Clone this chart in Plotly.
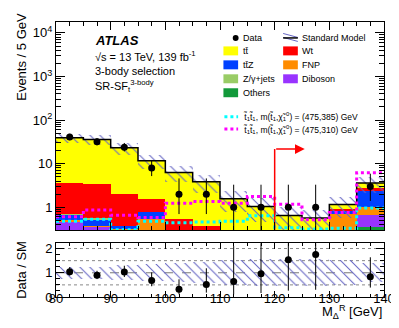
import numpy as np
import plotly.graph_objects as go

# ---- values ----
bin_edges = [80, 85, 90, 95, 100, 105, 110, 115, 120, 125, 130, 135, 140]
bin_centers = [82.5, 87.5, 92.5, 97.5, 102.5, 107.5, 112.5, 117.5, 122.5, 127.5, 132.5, 137.5]

# backgrounds, stacked bottom -> top
others = [0.01, 0.01, 0.02, 0.02, 0.01, 0.01, 0.02, 0.02, 0.01, 0.01, 0.01, 0.36]
diboson = [0.45, 0.35, 0.05, 0.03, 0.02, 0.02, 0.01, 0.01, 0.01, 0.01, 0.01, 0.30]
fnp = [0.05, 0.02, 0.25, 0.50, 0.02, 0.01, 0.00, 0.00, 0.00, 0.00, 0.70, 0.34]
ttz = [0.15, 0.12, 0.05, 0.24, 0.10, 0.10, 0.01, 0.01, 0.01, 0.01, 0.10, 1.40]
zjets = [0.05, 0.08, 0.00, 0.00, 0.00, 0.00, 0.00, 0.00, 0.00, 0.00, 0.00, 0.00]
wt = [2.83, 2.78, 1.61, 0.73, 0.40, 0.24, 0.03, 0.05, 0.02, 0.01, 0.08, 0.40]
ttbar = [35.7, 32.4, 21.2, 10.2, 5.75, 3.5, 1.5, 0.95, 0.6, 0.53, 0.26, 0.8]

sm_rel_unc = [0.25, 0.25, 0.30, 0.35, 0.40, 0.45, 0.50, 0.55, 0.55, 0.55, 0.50, 0.40]

data = [41, 32, 24, 8, 2, 2, 1, 1, 1, 1, 0, 3]
data_err_up = [7.4, 6.7, 5.9, 3.9, 2.6, 2.6, 2.3, 2.3, 2.3, 2.3, 0, 2.9]
data_err_dn = [6.4, 5.6, 4.9, 2.8, 1.3, 1.3, 0.83, 0.83, 0.83, 0.83, 0, 1.6]

sig_385 = [0.48, 0.53, 0.305, 0.48, 0.44, 0.46, 0.48, 0.64, 0.34, 0.32, 0.33, 0.97]
sig_310 = [0.61, 0.87, 0.66, 0.58, 1.24, 1.36, 1.24, 1.77, 1.17, 0.52, 0.76, 6.2]

cut_value = 120
arrow_end = 125.5
arrow_height = 21.6

# ---- styles ----
bkgs = [
    ("Others", others, "#12993a"),
    ("Diboson", diboson, "#9933ff"),
    ("FNP", fnp, "#ff8c00"),
    ("ttZ", ttz, "#0040ff"),
    ("Z/gamma+jets", zjets, "#99cc66"),
    ("Wt", wt, "#ff0000"),
    ("ttbar", ttbar, "#ffff00"),
]
HATCH = "#6666c4"
FONT = "Liberation Sans, Arial, sans-serif"

W, H = 399, 328
PL, PR, PT, PB = 48, 383, 13, 289


def fx(px):
    return (px - PL) / (PR - PL)


def fy(py):
    return (PB - py) / (PB - PT)


fig = go.Figure()

# stacked backgrounds: draw cumulative sums from the top one down,
# each bar starting at the axis floor (works on a log axis)
cumul = np.cumsum([np.array(v) for _, v, _ in bkgs], axis=0)
for i in range(len(bkgs) - 1, -1, -1):
    fig.add_trace(go.Bar(x=bin_centers, y=cumul[i], width=5,
                         marker=dict(color=bkgs[i][2], line=dict(width=0)),
                         xaxis="x", yaxis="y", showlegend=False))
total = cumul[-1]

# SM uncertainty band
rel = np.array(sm_rel_unc)
hatch = dict(color="rgba(0,0,0,0)", line=dict(width=0),
             pattern=dict(shape="\\", fgcolor=HATCH, fgopacity=1, bgcolor="rgba(0,0,0,0)",
                          size=7, solidity=0.15, fillmode="overlay"))
fig.add_trace(go.Bar(x=bin_centers, y=2 * rel * total, base=total * (1 - rel), width=5,
                     marker=hatch, xaxis="x", yaxis="y", showlegend=False))

# SM total line
fig.add_trace(go.Scatter(x=bin_edges, y=list(total) + [total[-1]], mode="lines",
                         line=dict(color="black", width=1.5, shape="hv"),
                         xaxis="x", yaxis="y", showlegend=False))

# signals
for vals, col in [(sig_385, "#00ffff"), (sig_310, "#ff00ff")]:
    fig.add_trace(go.Scatter(x=bin_edges, y=vals + [vals[-1]], mode="lines",
                             line=dict(color=col, width=3, dash="dot", shape="hv"),
                             xaxis="x", yaxis="y", showlegend=False))

# cut arrow
ymin_main = 10 ** -0.526
fig.add_trace(go.Scatter(x=[cut_value, cut_value], y=[ymin_main, arrow_height], mode="lines",
                         line=dict(color="red", width=1.5), xaxis="x", yaxis="y", showlegend=False))
fig.add_annotation(x=arrow_end, y=np.log10(arrow_height), ax=cut_value, ay=np.log10(arrow_height),
                   xref="x", yref="y", axref="x", ayref="y", text="", showarrow=True,
                   arrowhead=2, arrowsize=1.3, arrowwidth=1.5, arrowcolor="red")

# data
d = np.array(data, dtype=float)
mask = d > 0
xs = [c for c, m in zip(bin_centers, mask) if m]
fig.add_trace(go.Scatter(x=xs, y=d[mask], mode="markers",
                         marker=dict(color="black", size=7),
                         error_y=dict(type="data", symmetric=False,
                                      array=np.array(data_err_up)[mask],
                                      arrayminus=np.array(data_err_dn)[mask],
                                      color="black", thickness=1, width=0),
                         xaxis="x", yaxis="y", showlegend=False))

# ratio panel
for yv, dash, col in [(0.5, "dot", "#888888"), (1.5, "dot", "#888888"), (2.0, "dot", "#888888"), (1.0, "dash", "#777777")]:
    fig.add_shape(type="line", xref="x2", yref="y2", x0=80, x1=140, y0=yv, y1=yv,
                  line=dict(color=col, width=1, dash=dash), layer="below")
fig.add_trace(go.Bar(x=bin_centers, y=2 * rel, base=1 - rel, width=5,
                     marker=hatch, xaxis="x2", yaxis="y2", showlegend=False))
ratio = d / total
fig.add_trace(go.Scatter(x=xs, y=ratio[mask], mode="markers",
                         marker=dict(color="black", size=7),
                         error_y=dict(type="data", symmetric=False,
                                      array=(np.array(data_err_up) / total)[mask],
                                      arrayminus=(np.array(data_err_dn) / total)[mask],
                                      color="black", thickness=1, width=0),
                         xaxis="x2", yaxis="y2", showlegend=False))

# ---- legend (drawn by hand) ----
leg_rows = [29, 42, 56, 70, 84]
col1_box, col2_box = (219, 234), (280, 295)
left_items = [("Data", None), ("tt\u0304", "#ffff00"), ("tt\u0304Z", "#0040ff"),
              ("Z/\u03b3+jets", "#99cc66"), ("Others", "#12993a")]
right_items = [("Standard Model", None), ("Wt", "#ff0000"), ("FNP", "#ff8c00"), ("Diboson", "#9933ff")]

for (label, col), row in zip(left_items, leg_rows):
    if col is None:
        fig.add_shape(type="circle", xref="paper", yref="paper",
                      x0=fx(228.5), x1=fx(234.5), y0=fy(row + 3), y1=fy(row - 3),
                      fillcolor="black", line=dict(width=0))
    else:
        fig.add_shape(type="rect", xref="paper", yref="paper",
                      x0=fx(col1_box[0]), x1=fx(col1_box[1]), y0=fy(row + 4.5), y1=fy(row - 4.5),
                      fillcolor=col, line=dict(width=0))
    fig.add_annotation(x=fx(237), y=fy(row), xref="paper", yref="paper", text=label,
                       showarrow=False, xanchor="left", yanchor="middle",
                       font=dict(size=9, family=FONT, color="black"))

for (label, col), row in zip(right_items, leg_rows):
    if col is None:
        for off in (-2.5, 1.5):
            fig.add_shape(type="line", xref="paper", yref="paper",
                          x0=fx(col2_box[0]), x1=fx(col2_box[1]),
                          y0=fy(row + off - 2), y1=fy(row + off + 2),
                          line=dict(color=HATCH, width=1))
        fig.add_shape(type="line", xref="paper", yref="paper",
                      x0=fx(col2_box[0]), x1=fx(col2_box[1]), y0=fy(row), y1=fy(row),
                      line=dict(color="black", width=1.5))
    else:
        fig.add_shape(type="rect", xref="paper", yref="paper",
                      x0=fx(col2_box[0]), x1=fx(col2_box[1]), y0=fy(row + 4.5), y1=fy(row - 4.5),
                      fillcolor=col, line=dict(width=0))
    fig.add_annotation(x=fx(297), y=fy(row), xref="paper", yref="paper", text=label,
                       showarrow=False, xanchor="left", yanchor="middle",
                       font=dict(size=9, family=FONT, color="black"))

stop = "t\u0303<sub>1</sub>"
chi = "\u03c7\u0303<sub>1</sub><sup>0</sup>"
for row, col, masses in [(108, "#00ffff", "(475,385)"), (120.5, "#ff00ff", "(475,310)")]:
    fig.add_shape(type="line", xref="paper", yref="paper", x0=fx(220), x1=fx(234),
                  y0=fy(row), y1=fy(row), line=dict(color=col, width=3, dash="dot"))
    fig.add_annotation(x=fx(237), y=fy(row), xref="paper", yref="paper",
                       text=stop + stop + ", m(" + stop + "," + chi + ") = " + masses + " GeV",
                       showarrow=False, xanchor="left", yanchor="middle",
                       font=dict(size=8.5, family=FONT, color="black"))

# ---- labels ----
fig.add_annotation(x=fx(86), y=fy(32), xref="paper", yref="paper", text="<b><i>ATLAS</i></b>",
                   showarrow=False, xanchor="left", yanchor="middle",
                   font=dict(size=13, family=FONT, color="black"))
for txt, row in [("\u221As = 13 TeV, 139 fb<sup>-1</sup>", 47), ("3-body selection", 62),
                 ("SR-SF<sub>t</sub><sup>3-body</sup>", 77)]:
    fig.add_annotation(x=fx(86), y=fy(row), xref="paper", yref="paper", text=txt,
                       showarrow=False, xanchor="left", yanchor="middle",
                       font=dict(size=11, family=FONT, color="black"))

fig.add_annotation(x=fx(12), y=fy(2), xref="paper", yref="paper", text="Events / 5 GeV",
                   textangle=-90, showarrow=False, xanchor="center", yanchor="top",
                   font=dict(size=13, family=FONT, color="black"))
fig.add_annotation(x=fx(12), y=fy(262), xref="paper", yref="paper", text="Data / SM",
                   textangle=-90, showarrow=False, xanchor="center", yanchor="middle",
                   font=dict(size=13, family=FONT, color="black"))
fig.add_annotation(x=1, y=fy(304), xref="paper", yref="paper", text="M<sub>\u0394</sub><sup>R</sup> [GeV]",
                   showarrow=False, xanchor="right", yanchor="middle",
                   font=dict(size=13, family=FONT, color="black"))

# ---- axes ----
major_log = [1, 10, 100, 1000, 10000]
minor_log = [m * 10 ** k for k in range(-1, 5) for m in range(2, 10)]
axis_common = dict(showline=True, linecolor="black", linewidth=1, mirror="ticks",
                   ticks="inside", tickcolor="black", showgrid=False, zeroline=False,
                   tickfont=dict(size=13, family=FONT, color="black"))

fig.update_layout(
    width=W, height=H,
    margin=dict(l=PL, r=W - PR, t=PT, b=H - PB),
    paper_bgcolor="white", plot_bgcolor="white",
    barmode="overlay", bargap=0,
    xaxis=dict(domain=[0, 1], range=[80, 140], anchor="y", showticklabels=False,
               ticklen=8, dtick=10, minor=dict(ticks="inside", ticklen=4, dtick=2.5),
               **axis_common),
    yaxis=dict(domain=[fy(222), 1], type="log", range=[-0.526, 4.25], anchor="x",
               tickvals=major_log, ticktext=["1", "10", "10<sup>2</sup>", "10<sup>3</sup>", "10<sup>4</sup>"],
               ticklen=9, minor=dict(ticks="inside", ticklen=5, tickvals=minor_log),
               **axis_common),
    xaxis2=dict(domain=[0, 1], range=[80, 140], anchor="y2", matches="x",
                ticklen=6, dtick=10, minor=dict(ticks="inside", ticklen=3, dtick=2.5),
                ticklabelstandoff=-11,
                **axis_common),
    yaxis2=dict(domain=[0, fy(235)], range=[0, 2.22], anchor="x2",
                tickvals=[0, 1, 2], ticklen=8, minor=dict(ticks="inside", ticklen=4, dtick=0.25),
                **axis_common),
)

fig.write_html("out.html")
